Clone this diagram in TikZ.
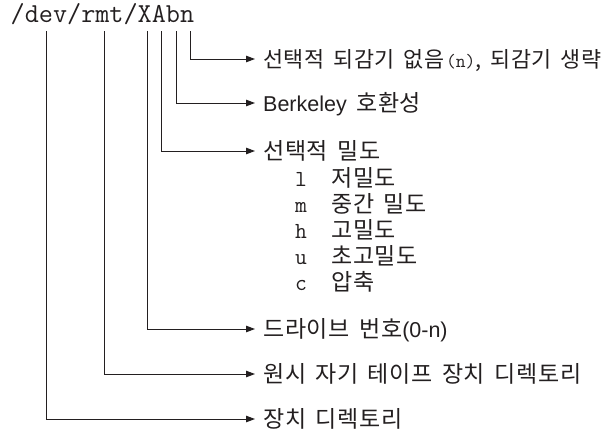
\documentclass[tikz,border=0pt]{standalone}
\usepackage{fontspec}
\setmainfont{Liberation Sans}
\newfontfamily\kr[LetterSpace=3,WordSpace=1.6]{Noto Sans CJK KR}
\usetikzlibrary{arrows.meta}
\definecolor{ink}{HTML}{231F20}
\tikzset{
  lab/.style={anchor=west, inner sep=0pt, text height=18pt, text depth=2pt,
    font=\kr\fontsize{23}{26}\selectfont, text=ink},
  code/.style={anchor=west, inner sep=0pt, text height=18pt, text depth=2pt,
    font=\ttfamily\fontsize{23}{26}\selectfont, text=ink},
  conn/.style={draw=ink, line width=1pt, shorten >=8pt,
    -{Triangle[length=9pt,width=6.5pt]}}
}
\newcommand{\lat}[1]{{\rmfamily\fontsize{21.5}{24}\selectfont #1}}
\newcommand{\mono}[1]{{\ttfamily\fontsize{19}{24}\selectfont #1}}
\begin{document}
\begin{tikzpicture}[x=1pt,y=-1pt]
\useasboundingbox (0,0) rectangle (613,431);
\node[anchor=base west, inner sep=0pt, font=\ttfamily\fontsize{27.4}{28}\selectfont, text=ink]
  (path) at (10.5,23) {/dev/rmt/XAbn};
% tops of connector lines under characters
\coordinate (ce) at ([xshift=36pt,yshift=-8pt]path.base west);
\coordinate (cm) at ([xshift=93.6pt,yshift=-8pt]path.base west);
\coordinate (cX) at ([xshift=136.8pt,yshift=-8pt]path.base west);
\coordinate (cA) at ([xshift=151.2pt,yshift=-8pt]path.base west);
\coordinate (cb) at ([xshift=165.6pt,yshift=-8pt]path.base west);
\coordinate (cn) at ([xshift=180pt,yshift=-8pt]path.base west);
% labels
\node[lab, font=\kr\fontsize{21.8}{26}\selectfont] (ln) at (263,59) {선택적 되감기 없음\kern1.5pt\mono{(n)}, 되감기 생략};
\node[lab] (lb) at (263,103) {\lat{Berkeley} 호환성};
\node[lab] (lA) at (263,151) {선택적 밀도};
\node[code] (k1) at (295,178) {l};
\node[lab]  (d1) at (331,178) {저밀도};
\node[code] (k2) at (295,204) {m};
\node[lab]  (d2) at (331,204) {중간 밀도};
\node[code] (k3) at (295,230) {h};
\node[lab]  (d3) at (331,230) {고밀도};
\node[code] (k4) at (295,256) {u};
\node[lab]  (d4) at (331,256) {초고밀도};
\node[code] (k5) at (295,282) {c};
\node[lab]  (d5) at (331,282) {압축};
\node[lab] (lX) at (263,329) {드라이브 번호\lat{(0-n)}};
\node[lab] (lm) at (263,374) {원시 자기 테이프 장치 디렉토리};
\node[lab] (le) at (263,419) {장치 디렉토리};
% connectors
\draw[conn] (cn) |- (ln.west);
\draw[conn] (cb) |- (lb.west);
\draw[conn] (cA) |- (lA.west);
\draw[conn] (cX) |- (lX.west);
\draw[conn] (cm) |- (lm.west);
\draw[conn] (ce) |- (le.west);
\end{tikzpicture}
\end{document}
